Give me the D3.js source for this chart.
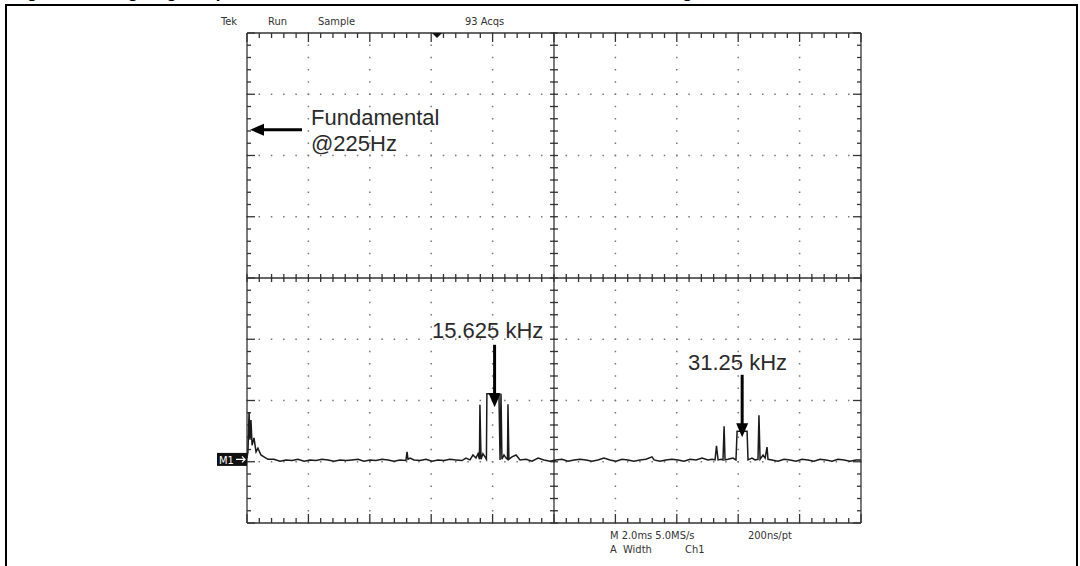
<!DOCTYPE html>
<html>
<head>
<meta charset="utf-8">
<script src="https://cdn.jsdelivr.net/npm/d3@7"></script>
<style>
  html, body { margin: 0; padding: 0; background: #fff; }
  svg { display: block; }
</style>
</head>
<body>
<div id="scope_canvas"></div>
<script>
// scope trace, frequency in kHz, level in screen divisions from the bottom graticule
const traceFreq = [0, 0.06, 0.13, 0.19, 0.25, 0.32, 0.44, 0.57, 0.69, 0.88, 1.07, 1.33, 1.70, 2.08,
  2.46, 2.84, 3.22, 3.60, 3.98, 4.35, 4.73, 5.11, 5.49, 5.87, 6.25, 6.63, 7.01, 7.38, 7.76, 8.14,
  8.52, 8.90, 9.28, 9.66, 10.03, 10.10, 10.16, 10.29, 10.54, 10.92, 11.30, 11.68, 12.05, 12.43,
  12.81, 13.19, 13.57, 13.82, 14.07, 14.26, 14.45, 14.58, 14.67, 14.70, 14.77, 14.89, 15.02, 15.11,
  15.14, 15.90, 15.97, 16.03, 16.09, 16.22, 16.35, 16.44, 16.47, 16.53, 16.72, 16.98, 17.23, 17.61,
  17.99, 18.37, 18.74, 19.12, 19.50, 19.88, 20.26, 20.64, 21.02, 21.39, 21.77, 22.15, 22.53, 22.91,
  23.29, 23.67, 24.04, 24.42, 24.80, 25.18, 25.56, 25.69, 26.06, 26.44, 26.82, 27.20, 27.58, 27.96,
  28.34, 28.72, 29.09, 29.35, 29.54, 29.63, 29.73, 29.92, 30.04, 30.11, 30.17, 30.36, 30.67, 30.86,
  30.93, 31.56, 31.62, 31.87, 32.06, 32.25, 32.31, 32.38, 32.57, 32.70, 32.82, 32.88, 33.13, 33.51,
  33.89, 34.27, 34.65, 35.03, 35.40, 35.78, 36.16, 36.54, 36.92, 37.30, 37.68, 38.06, 38.44, 38.75];
const traceLevel = [1.06, 1.16, 1.81, 1.36, 1.68, 1.27, 1.39, 1.16, 1.22, 1.11, 1.08, 1.04, 1.04, 1.01,
  1.03, 1.02, 1.04, 1.01, 1.03, 1.02, 1.04, 1.03, 1.01, 1.03, 1.02, 1.03, 1.04, 1.01, 1.03, 1.02,
  1.04, 1.03, 1.01, 1.03, 1.02, 1.16, 1.04, 1.06, 1.03, 1.02, 1.04, 1.01, 1.03, 1.02, 1.04, 1.03,
  1.02, 1.06, 1.03, 1.11, 1.06, 1.13, 1.04, 1.93, 1.04, 1.13, 1.08, 1.04, 2.11, 2.11, 1.03, 2.11,
  1.04, 1.11, 1.06, 1.04, 1.94, 1.04, 1.08, 1.11, 1.03, 1.04, 1.01, 1.06, 1.03, 1.01, 1.03, 1.04,
  1.01, 1.03, 1.04, 1.03, 1.01, 1.03, 1.06, 1.03, 1.01, 1.04, 1.03, 1.01, 1.03, 1.04, 1.08, 1.03,
  1.01, 1.03, 1.04, 1.03, 1.01, 1.04, 1.03, 1.06, 1.03, 1.04, 1.03, 1.26, 1.03, 1.04, 1.03, 1.58,
  1.03, 1.04, 1.06, 1.03, 1.50, 1.50, 1.03, 1.06, 1.03, 1.04, 1.76, 1.04, 1.11, 1.06, 1.24, 1.04,
  1.03, 1.01, 1.04, 1.03, 1.01, 1.04, 1.03, 1.01, 1.04, 1.03, 1.01, 1.04, 1.03, 1.01, 1.03, 1.03];

// annotation arrows: [label lines, arrow tip kHz, tip level, tail kHz, tail level]
const noteLabels = [['Fundamental', '@225Hz'], ['15.625 kHz'], ['31.25 kHz']];
const noteTipFreq = [0.19, 15.625, 31.25];
const noteTipLevel = [6.42, 1.89, 1.40];
const noteTailFreq = [3.47, 15.625, 31.25];
const noteTailLevel = [6.42, 2.91, 2.42];

const headerLabels = ['Tek', 'Run', 'Sample', '93 Acqs'];
const footerRow1 = ['M 2.0ms 5.0MS/s', '200ns/pt'];
const footerRow2 = ['A  Width', 'Ch1'];

const width = 1080;
const height = 566;
const spanKHz = 38.75;
const xDivs = 10, yDivs = 8, minorPerDiv = 5;

const svg = d3.select('#scope_canvas').append('svg')
  .attr('width', width).attr('height', height);

// clipped figure caption and frame
svg.append('text')
  .attr('x', 12).attr('y', -2)
  .attr('font-family', 'Liberation Sans, Arial, sans-serif')
  .attr('font-weight', 'bold').attr('font-size', 17)
  .text('Figure 9. Voltage signal spectrum of the fan motor: fundamental and PWM switching harmonics');
svg.append('rect')
  .attr('x', 6).attr('y', 5).attr('width', 1071).attr('height', 580)
  .attr('fill', 'none').attr('stroke', '#000').attr('stroke-width', 2);

const x = d3.scaleLinear().domain([0, spanKHz]).range([247, 861]);
const y = d3.scaleLinear().domain([0, yDivs]).range([523, 33]);
const divX = d3.scaleLinear().domain([0, xDivs]).range(x.range());

const grid = svg.append('g');
const ink = '#1a1a1a';

// dotted graticule
const xMinor = d3.range(0, xDivs * minorPerDiv + 1).map(i => divX(i / minorPerDiv));
const yMinor = d3.range(0, yDivs * minorPerDiv + 1).map(i => y(i / minorPerDiv));
const xMajor = d3.range(0, xDivs + 1).map(i => divX(i));
const yMajor = d3.range(0, yDivs + 1).map(i => y(i));

const dots = [];
xMajor.slice(1, -1).forEach(px => yMinor.forEach(py => dots.push([px, py])));
yMajor.slice(1, -1).forEach(py => xMinor.forEach(px => dots.push([px, py])));
grid.selectAll('.dot').data(dots).join('rect')
  .attr('class', 'dot')
  .attr('x', d => d[0] - 0.75).attr('y', d => d[1] - 0.75)
  .attr('width', 1.5).attr('height', 1.5)
  .attr('fill', '#777');

// rulers on the border and on the centre cross
const x0 = x.range()[0], x1 = x.range()[1], yTop = y.range()[1], yBot = y.range()[0];
const xc = divX(xDivs / 2), yc = y(yDivs / 2);
const lines = [
  [x0, yTop, x1, yTop], [x0, yBot, x1, yBot], [x0, yTop, x0, yBot], [x1, yTop, x1, yBot],
  [x0, yc, x1, yc], [xc, yTop, xc, yBot]
];
xMinor.forEach((px, i) => {
  const len = i % minorPerDiv === 0 ? 9 : 5;
  lines.push([px, yTop, px, yTop + len]);
  lines.push([px, yBot, px, yBot - len]);
  lines.push([px, yc - 4, px, yc + 4]);
});
yMinor.forEach((py, i) => {
  const len = i % minorPerDiv === 0 ? 8 : 4;
  lines.push([x0, py, x0 + len, py]);
  lines.push([x1, py, x1 - len, py]);
  lines.push([xc - 4, py, xc + 4, py]);
});
grid.selectAll('.rule').data(lines).join('line')
  .attr('class', 'rule')
  .attr('x1', d => d[0]).attr('y1', d => d[1])
  .attr('x2', d => d[2]).attr('y2', d => d[3])
  .attr('stroke', '#333').attr('stroke-width', 1.3);

// trigger position marker
svg.append('path')
  .attr('d', d3.line()([[432, yTop], [442, yTop], [437, yTop + 5]]) + 'Z')
  .attr('fill', '#111');

// header and footer readouts
const scopeFont = '"Liberation Sans Narrow", "Arial Narrow", "DejaVu Sans Condensed", sans-serif';
svg.selectAll('.hdr').data(headerLabels).join('text')
  .attr('class', 'hdr')
  .attr('x', (d, i) => [221, 268, 318, 465][i]).attr('y', 25)
  .attr('font-family', scopeFont).attr('font-size', 11).attr('fill', '#333')
  .text(d => d);
svg.selectAll('.ft1').data(footerRow1).join('text')
  .attr('class', 'ft1')
  .attr('x', (d, i) => [610, 748][i]).attr('y', 539)
  .attr('font-family', scopeFont).attr('font-size', 11).attr('fill', '#333')
  .text(d => d);
svg.selectAll('.ft2').data(footerRow2).join('text')
  .attr('class', 'ft2')
  .attr('x', (d, i) => [610, 685][i]).attr('y', 553)
  .attr('font-family', scopeFont).attr('font-size', 11).attr('fill', '#333')
  .attr('xml:space', 'preserve')
  .text(d => d);

// M1 reference marker
const m1 = svg.append('g').attr('transform', `translate(217,${y(1.03) - 7})`);
m1.append('rect').attr('width', 30).attr('height', 13).attr('fill', '#111');
m1.append('text').attr('x', 2).attr('y', 11)
  .attr('font-family', scopeFont).attr('font-size', 11).attr('fill', '#fff').text('M1');
m1.append('path').attr('d', 'M19,6.5H28M25,3.5L28,6.5L25,9.5')
  .attr('stroke', '#fff').attr('stroke-width', 1.2).attr('fill', 'none');

// trace
const trace = traceFreq.map((f, i) => [f, traceLevel[i]]);
svg.append('path')
  .datum(trace)
  .attr('d', d3.line().x(d => x(d[0])).y(d => y(d[1])))
  .attr('fill', 'none').attr('stroke', ink).attr('stroke-width', 1.5)
  .attr('stroke-linejoin', 'miter');

// annotations
const notes = noteLabels.map((lab, i) => ({
  lab, tip: [x(noteTipFreq[i]), y(noteTipLevel[i])], tail: [x(noteTailFreq[i]), y(noteTailLevel[i])]
}));
const noteG = svg.selectAll('.note').data(notes).join('g').attr('class', 'note');
noteG.append('line')
  .attr('x1', d => d.tail[0]).attr('y1', d => d.tail[1])
  .attr('x2', d => d.tip[0] + (d.tail[0] - d.tip[0]) * 0.2)
  .attr('y2', d => d.tip[1] + (d.tail[1] - d.tip[1]) * 0.2)
  .attr('stroke', '#000').attr('stroke-width', 3);
noteG.append('path')
  .attr('d', d => {
    const ang = Math.atan2(d.tip[1] - d.tail[1], d.tip[0] - d.tail[0]);
    const L = 14, W = 6;
    const bx = d.tip[0] - L * Math.cos(ang), by = d.tip[1] - L * Math.sin(ang);
    const nx = -Math.sin(ang) * W, ny = Math.cos(ang) * W;
    return `M${d.tip[0]},${d.tip[1]}L${bx + nx},${by + ny}L${bx - nx},${by - ny}Z`;
  })
  .attr('fill', '#000');

const labelPos = [[311, 125], [432, 338], [688, 370]];
noteG.append('text')
  .attr('font-family', 'Liberation Sans, Arial, sans-serif')
  .attr('font-size', 22).attr('fill', '#2a2a2a')
  .each(function(d, i) {
    d3.select(this).selectAll('tspan').data(d.lab).join('tspan')
      .attr('x', labelPos[i][0])
      .attr('y', (t, j) => labelPos[i][1] + j * 26)
      .text(t => t);
  });
</script>
</body>
</html>
